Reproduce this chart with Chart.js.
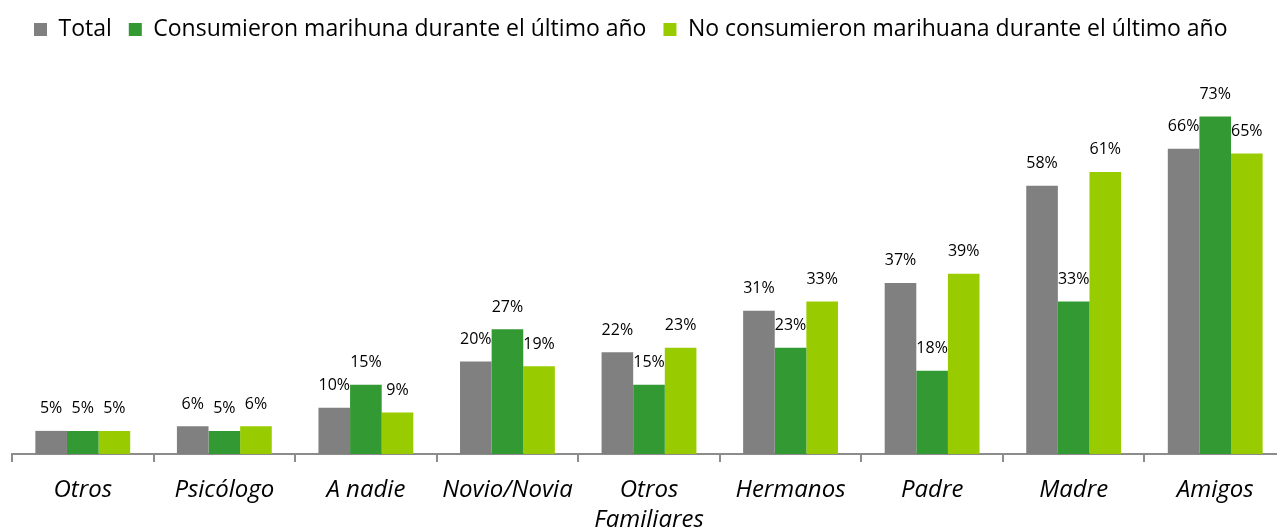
<!DOCTYPE html>
<html>
<head>
<meta charset="utf-8">
<script src="https://cdn.jsdelivr.net/npm/chart.js@4/dist/chart.umd.min.js"></script>
<style>
  html, body { margin: 0; padding: 0; background: #fff; overflow: hidden; }
  #wrap { width: 1286px; height: 548px; }
</style>
</head>
<body>
<div id="wrap"><canvas id="grafico_confianza"></canvas></div>
<script>
// categorias y valores (%)
var categorias = ['Otros', 'Psicólogo', 'A nadie', 'Novio/Novia', ['Otros', 'Familiares'], 'Hermanos', 'Padre', 'Madre', 'Amigos'];
var total = [5, 6, 10, 20, 22, 31, 37, 58, 66];
var consumieron = [5, 5, 15, 27, 15, 23, 18, 33, 73];
var noConsumieron = [5, 6, 9, 19, 23, 33, 39, 61, 65];

var fuente = "'Open Sans', 'Noto Sans', sans-serif";

// etiquetas de porcentaje sobre cada barra
var etiquetasBarras = {
    id: 'etiquetasBarras',
    afterDatasetsDraw: function(chart) {
        var ctx = chart.ctx;
        ctx.save();
        ctx.font = '16px ' + fuente;
        ctx.fillStyle = '#000';
        ctx.textAlign = 'center';
        ctx.textBaseline = 'middle';
        chart.data.datasets.forEach(function(ds, i) {
            chart.getDatasetMeta(i).data.forEach(function(bar, j) {
                ctx.fillText(ds.data[j] + '%', bar.x, bar.y - 22);
            });
        });
        ctx.restore();
    }
};

// espacio extra bajo la leyenda y pequeño corrimiento a la derecha
var margenLeyenda = {
    id: 'margenLeyenda',
    beforeInit: function(chart) {
        var fitOriginal = chart.legend.fit;
        chart.legend.fit = function() {
            fitOriginal.bind(chart.legend)();
            this.height += 33;
        };
    },
    afterLayout: function(chart) {
        chart.legend.left += 5;
    }
};

var ctx = document.getElementById("grafico_confianza").getContext("2d");
var chart = new Chart(ctx, {
    type: 'bar',
    data: {
        labels: categorias,
        datasets: [{
            label: 'Total',
            data: total,
            backgroundColor: '#808080'
        }, {
            label: 'Consumieron marihuna durante el último año',
            data: consumieron,
            backgroundColor: '#339933'
        }, {
            label: 'No consumieron marihuana durante el último año',
            data: noConsumieron,
            backgroundColor: '#99cc00'
        }]
    },
    plugins: [etiquetasBarras, margenLeyenda],
    options: {
        responsive: true,
        maintainAspectRatio: false,
        animation: false,
        layout: { padding: { left: 12, right: 0, top: 1, bottom: 0 } },
        datasets: { bar: { categoryPercentage: 0.67, barPercentage: 1.0 } },
        plugins: {
            tooltip: { enabled: false },
            legend: {
                position: 'top',
                align: 'start',
                labels: {
                    boxWidth: 13,
                    boxHeight: 13,
                    padding: 17,
                    color: '#000',
                    font: { family: fuente, size: 23 }
                }
            }
        },
        scales: {
            x: {
                border: { display: true, color: '#8c8c8c', width: 2 },
                grid: { display: true, drawOnChartArea: false, drawTicks: true, tickLength: 8, color: '#8c8c8c', lineWidth: 2 },
                ticks: {
                    color: '#000',
                    padding: 13,
                    maxRotation: 0,
                    autoSkip: false,
                    font: { family: fuente, size: 24, style: 'italic', lineHeight: 1.25 }
                }
            },
            y: {
                display: false,
                min: 0,
                max: 80
            }
        }
    }
});
</script>
</body>
</html>
